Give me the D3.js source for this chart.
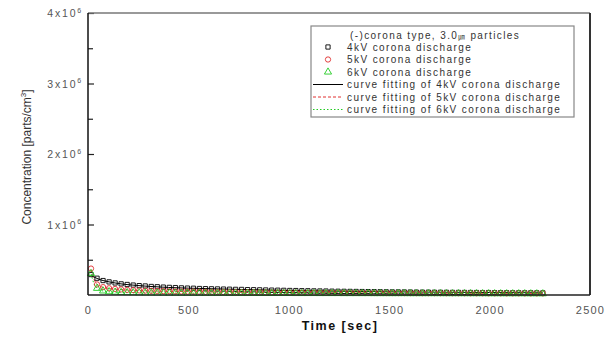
<!DOCTYPE html>
<html>
<head>
<meta charset="utf-8">
<script src="https://cdn.jsdelivr.net/npm/d3@7"></script>
<style>
  html, body { margin: 0; padding: 0; background: #fff; }
  svg { display: block; font-family: "Liberation Sans", Arial, sans-serif; }
</style>
</head>
<body>
<svg id="chart" width="615" height="340"></svg>
<script>
// Sampling times (s)
const times = [15, 45, 75, 105, 135, 165, 195, 225, 255, 285, 315, 345, 375, 405, 435, 465, 495, 525, 555, 585,
  615, 645, 675, 705, 735, 765, 795, 825, 855, 885, 915, 945, 975, 1005, 1035, 1065, 1095, 1125, 1155, 1185,
  1215, 1245, 1275, 1305, 1335, 1365, 1395, 1425, 1455, 1485, 1515, 1545, 1575, 1605, 1635, 1665, 1695, 1725, 1755, 1785,
  1815, 1845, 1875, 1905, 1935, 1965, 1995, 2025, 2055, 2085, 2115, 2145, 2175, 2205, 2235, 2265];

// Measured concentration (parts/cm^3)
const kv4 = [290000, 238000, 205000, 186000, 171000, 158000, 149000, 141000, 133000, 128000, 121000, 117000, 112000, 108000, 105000, 101000, 98000, 96000, 92000, 90000,
  88000, 86000, 84000, 82000, 80000, 79000, 76000, 75000, 73000, 71000, 69000, 68000, 66000, 64000, 63000, 61000, 60000, 58000, 57000, 56000,
  54000, 53000, 52000, 51000, 50000, 49000, 48000, 47000, 46000, 45000, 44000, 43500, 43000, 42000, 41000, 40500, 40000, 39000, 38500, 38000,
  37000, 36500, 36000, 35500, 35000, 34000, 34500, 33500, 33000, 32500, 32000, 31500, 31000, 31500, 30500, 30000];
const kv5 = [375000, 150000, 112000, 96000, 86000, 79000, 73000, 69000, 65000, 62000, 59000, 57000, 55000, 53000, 51000, 49500, 48000, 47000, 45500, 44500,
  43500, 42500, 41500, 40500, 40000, 39000, 38500, 37500, 37000, 36500, 36000, 35000, 34500, 34000, 33500, 33000, 32500, 32000, 31500, 31000,
  30500, 30000, 30000, 29500, 29000, 29000, 28500, 28000, 28000, 27500, 27500, 27000, 27000, 26500, 26500, 26000, 26000, 26000, 25500, 25500,
  25000, 25000, 25000, 24500, 24500, 24500, 24000, 24000, 24000, 23500, 23500, 23500, 23000, 23000, 23000, 22500];
const kv6 = [305000, 95000, 58000, 47000, 41000, 37000, 34500, 32500, 31000, 30000, 29000, 28000, 27500, 27000, 26500, 26000, 25500, 25000, 25000, 24500,
  24500, 24000, 24000, 23500, 23500, 23000, 23000, 23000, 22500, 22500, 22500, 22000, 22000, 22000, 21500, 21500, 21500, 21500, 21000, 21000,
  21000, 21000, 20500, 20500, 20500, 20500, 20500, 20000, 20000, 20000, 20000, 20000, 20000, 19500, 19500, 19500, 19500, 19500, 19500, 19000,
  19000, 19000, 19000, 19000, 19000, 19000, 18500, 18500, 18500, 18500, 18500, 18500, 18500, 18000, 18000, 18000];

// Fitted curves, evaluated at selected times
const fitTimes = [15, 30, 45, 60, 90, 120, 180, 240, 300, 400, 500, 700, 1000, 1300, 1600, 2000, 2265];
const fit4 = [285000, 255000, 235000, 218000, 195000, 178000, 152000, 136000, 123000, 107000, 97000, 83000, 63000, 51000, 43000, 35000, 31000];
const fit5 = [360000, 220000, 155000, 125000, 100000, 88000, 74000, 65000, 59000, 52000, 48000, 40500, 34000, 29000, 26500, 24000, 23000];
const fit6 = [300000, 160000, 95000, 70000, 50000, 42000, 35000, 31500, 29500, 27000, 25500, 23500, 22000, 20500, 19800, 18700, 18000];

const xTicks = [0, 500, 1000, 1500, 2000, 2500];
const yMajor = [1, 2, 3, 4];
const yMinor = [0.5, 1.5, 2.5, 3.5];

const legendTitle = "(-)corona type, 3.0";
const legendUnit = "㎛";
const legendTitleEnd = " particles";
const seriesNames = ["4kV corona discharge", "5kV corona discharge", "6kV corona discharge"];
const fitNames = ["curve fitting of 4kV corona discharge", "curve fitting of 5kV corona discharge", "curve fitting of 6kV corona discharge"];

const svg = d3.select("#chart");
const L = 88, R = 590, T = 13, B = 295;

const x = d3.scaleLinear().domain([0, 2500]).range([L, R]);
const y = d3.scaleLinear().domain([0, 4e6]).range([B, T]);

const colors = ["#000000", "#e03030", "#22cc22"];

// Fitted curves
const line = d3.line().x(d => x(d[0])).y(d => y(d[1])).curve(d3.curveMonotoneX);
const fits = [fit4, fit5, fit6];
const dashes = [null, "3,2", "1.5,2"];
fits.forEach((f, i) => {
  svg.append("path")
    .datum(fitTimes.map((t, j) => [t, f[j]]))
    .attr("d", line)
    .attr("fill", "none")
    .attr("stroke", colors[i])
    .attr("stroke-width", 1)
    .attr("stroke-dasharray", dashes[i]);
});

// Markers
const series = [kv4, kv5, kv6];
const sym = [d3.symbolSquare, d3.symbolCircle, d3.symbolTriangle];
const sizes = [18, 22, 22];
series.forEach((s, i) => {
  svg.append("g").selectAll("path")
    .data(times.map((t, j) => [t, s[j]]))
    .join("path")
    .attr("transform", d => `translate(${x(d[0])},${y(d[1])})`)
    .attr("d", d3.symbol(sym[i], sizes[i]))
    .attr("fill", "none")
    .attr("stroke", colors[i])
    .attr("stroke-width", 0.9);
});

// Y axis ticks (inward)
const yAxis = d3.axisLeft(y)
  .tickValues(yMajor.map(v => v * 1e6))
  .tickSize(-6)
  .tickFormat("");
const gy = svg.append("g").attr("transform", `translate(${L},0)`).call(yAxis);
gy.select(".domain").remove();
gy.selectAll(".tick line").attr("stroke", "#222").attr("stroke-width", 1.2);
const yAxisMinor = d3.axisLeft(y)
  .tickValues(yMinor.map(v => v * 1e6))
  .tickSize(-5)
  .tickFormat("");
const gym = svg.append("g").attr("transform", `translate(${L},0)`).call(yAxisMinor);
gym.select(".domain").remove();
gym.selectAll(".tick line").attr("stroke", "#222").attr("stroke-width", 1.2);

// Y tick labels  n x 10^6
yMajor.forEach(v => {
  const t = svg.append("text")
    .attr("x", 83).attr("y", y(v * 1e6) + 4)
    .attr("text-anchor", "end")
    .attr("fill", "#555")
    .attr("font-size", 10.5)
    .attr("letter-spacing", 1.8);
  t.append("tspan").text(v + "x10");
  t.append("tspan").attr("dy", -4.5).attr("font-size", 7).text("6");
});

// X axis labels
const xAxis = d3.axisBottom(x).tickValues(xTicks).tickSize(0).tickPadding(11).tickFormat(d3.format("d"));
const gx = svg.append("g").attr("transform", `translate(0,${B})`).call(xAxis);
gx.select(".domain").remove();
gx.selectAll("text")
  .attr("fill", "#555")
  .attr("font-size", 11)
  .attr("letter-spacing", 1.2)
  .attr("font-family", "'Liberation Sans', Arial, sans-serif");

// Frame
svg.append("line").attr("x1", L).attr("x2", R).attr("y1", T).attr("y2", T).attr("stroke", "#777").attr("stroke-width", 1.5);
svg.append("line").attr("x1", R).attr("x2", R).attr("y1", T).attr("y2", B).attr("stroke", "#333").attr("stroke-width", 2);
svg.append("line").attr("x1", L).attr("x2", R).attr("y1", B).attr("y2", B).attr("stroke", "#222").attr("stroke-width", 1.5);
svg.append("line").attr("x1", L).attr("x2", L).attr("y1", T).attr("y2", B).attr("stroke", "#111").attr("stroke-width", 1.5);

// Axis titles
svg.append("text")
  .attr("x", 340).attr("y", 330)
  .attr("text-anchor", "middle")
  .attr("font-weight", "bold")
  .attr("font-size", 12.5)
  .attr("letter-spacing", 1.5)
  .attr("fill", "#111")
  .text("Time [sec]");

const yt = svg.append("text")
  .attr("transform", "translate(31,157) rotate(-90)")
  .attr("text-anchor", "middle")
  .attr("font-size", 12)
  .attr("fill", "#333");
yt.append("tspan").text("Concentration [parts/cm");
yt.append("tspan").attr("dy", -5).attr("font-size", 8).text("3");
yt.append("tspan").attr("dy", 5).text("]");

// Legend
const lg = svg.append("g");
lg.append("rect")
  .attr("x", 311).attr("y", 26).attr("width", 263).attr("height", 91)
  .attr("fill", "#fff").attr("stroke", "#888").attr("stroke-width", 1.2);

const lt = lg.append("text")
  .attr("x", 350).attr("y", 38.5)
  .attr("font-size", 10).attr("fill", "#333").attr("letter-spacing", 1.4);
lt.append("tspan").text(legendTitle);
lt.append("tspan").attr("font-size", 6.5).attr("font-family", "'Noto Sans CJK KR', sans-serif").text(legendUnit);
lt.append("tspan").text(legendTitleEnd);

const rowY = [50.5, 63, 75.5];
seriesNames.forEach((name, i) => {
  lg.append("path")
    .attr("transform", `translate(328,${rowY[i] - 3.5})`)
    .attr("d", d3.symbol(sym[i], sizes[i]))
    .attr("fill", "none").attr("stroke", colors[i]).attr("stroke-width", 0.9);
  lg.append("text")
    .attr("x", 347).attr("y", rowY[i])
    .attr("font-size", 10).attr("fill", "#333").attr("letter-spacing", 1.42)
    .text(name);
});
const fitY = [88, 100.5, 113];
fitNames.forEach((name, i) => {
  lg.append("line")
    .attr("x1", 313).attr("x2", 343)
    .attr("y1", fitY[i] - 3.5).attr("y2", fitY[i] - 3.5)
    .attr("stroke", colors[i]).attr("stroke-width", 1)
    .attr("stroke-dasharray", dashes[i]);
  lg.append("text")
    .attr("x", 347).attr("y", fitY[i])
    .attr("font-size", 10).attr("fill", "#333").attr("letter-spacing", 1.42)
    .text(name);
});
</script>
</body>
</html>
